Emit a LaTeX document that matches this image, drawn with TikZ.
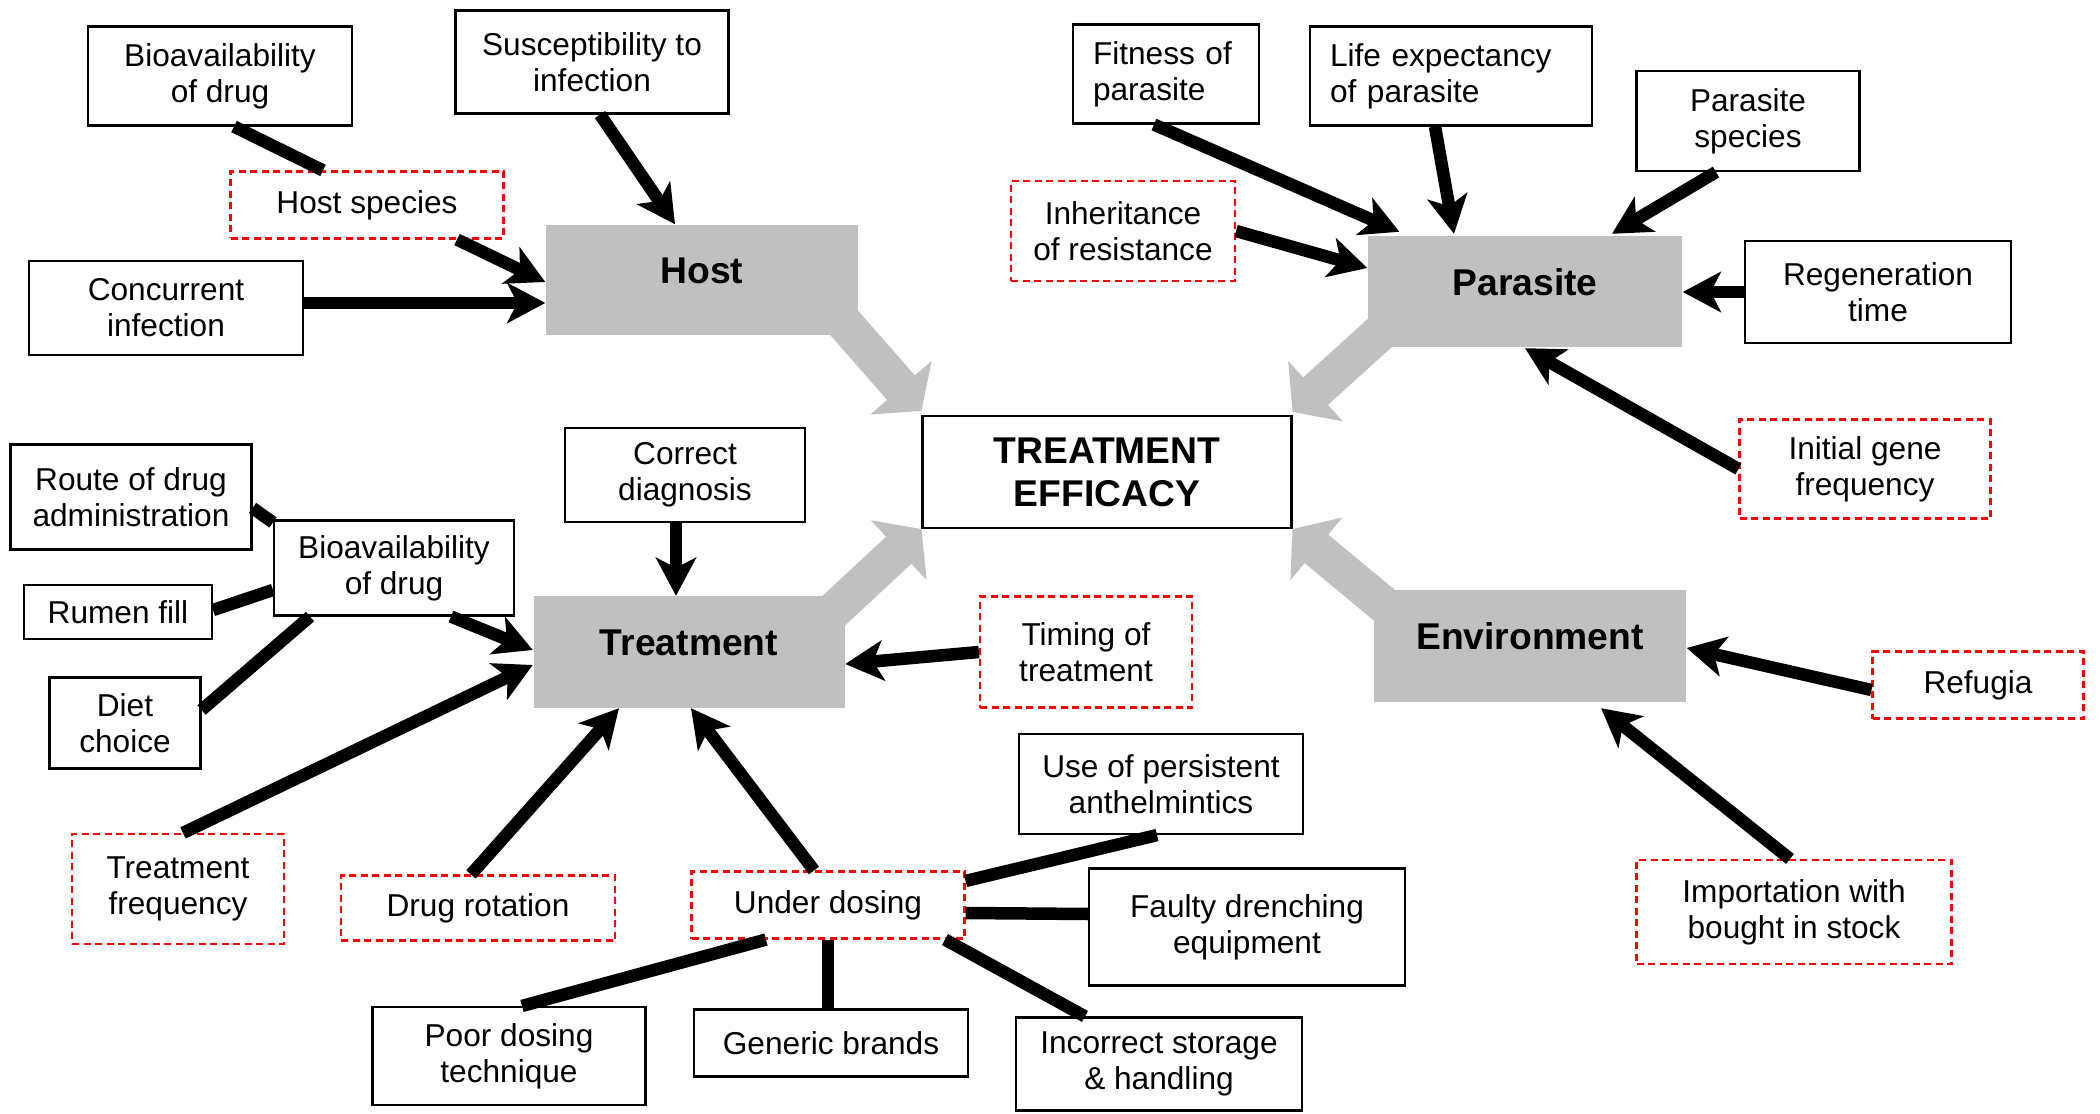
\documentclass[tikz,border=0pt]{standalone}
\usepackage{fontspec}
\setmainfont{Liberation Sans}
\usepackage{xcolor}
\usetikzlibrary{arrows.meta,calc}

\definecolor{boxgray}{RGB}{192,192,192}

\tikzset{
  sz/.style 2 args={minimum width=#1*0.1mm, minimum height=#2*0.1mm},
  box/.style={draw=black, line width=0.6pt, fill=white, align=center, inner sep=0pt,
    font=\fontsize{9}{10.3}\selectfont},
  dbox/.style={box, draw=red, dash pattern=on 0.7mm off 0.45mm},
  factor/.style={fill=boxgray, inner sep=0pt, text height=2.8mm, text depth=2.1mm,
    font=\fontsize{10.6}{12}\selectfont\bfseries},
  link/.style={line width=1.25mm},
  push/.style={link, -{Stealth[length=3.8mm,width=4mm,inset=1mm]}},
  bigpush/.style={line width=3.7mm, draw=boxgray, -{Triangle[length=3.1mm,width=8mm]}},
}

\begin{document}
\begin{tikzpicture}[x=0.1mm, y=-0.1mm]
\useasboundingbox (0,0) rectangle (2100,1114);

% Centre
\node[box, sz={369}{112}, font=\fontsize{10.6}{12.2}\selectfont\bfseries] (eff) at (1107,472) {TREATMENT\\EFFICACY};

% Main factors
\node[factor, sz={312}{110}] (host) at (702,280) {Host};
\node[factor, sz={314}{111}] (parasite) at (1525,292) {Parasite};
\node[factor, sz={311}{111}] (treat) at (689,652) {Treatment};
\node[factor, sz={312}{111}] (env) at (1530,646) {Environment};

% Host
\node[box, sz={264}{99}] (bioH) at (220,76) {Bioavailability\\of drug};
\node[box, sz={273}{103}] (susc) at (592,62) {Susceptibility to\\infection};
\node[dbox, sz={273}{67}] (hostsp) at (367,205) {Host species};
\node[box, sz={274}{94}] (concur) at (166,308) {Concurrent\\infection};

% Parasite
\node[box, sz={186}{99}, align=left, text width=14.6mm] (fitness) at (1166,74) {Fitness of\\parasite};
\node[box, sz={282}{99}, align=left, text width=24.2mm] (life) at (1451,76) {Life expectancy\\of parasite};
\node[box, sz={223}{100}] (parsp) at (1748,121) {Parasite\\species};
\node[dbox, sz={224}{100}] (inherit) at (1123,231) {Inheritance\\of resistance};
\node[box, sz={266}{102}] (regen) at (1878,292) {Regeneration\\time};
\node[dbox, sz={251}{99}] (initial) at (1865,469) {Initial gene\\frequency};

% Treatment
\node[box, sz={241}{105}] (route) at (131,497) {Route of drug\\administration};
\node[box, sz={240}{95}] (bioT) at (394,568) {Bioavailability\\of drug};
\node[box, sz={188}{54}] (rumen) at (118,612) {Rumen fill};
\node[box, sz={151}{91}] (diet) at (125,723) {Diet\\choice};
\node[box, sz={240}{94}] (correct) at (685,475) {Correct\\diagnosis};
\node[dbox, sz={212}{111}] (timing) at (1086,652) {Timing of\\treatment};
\node[dbox, sz={212}{110}] (freq) at (178,889) {Treatment\\frequency};
\node[dbox, sz={274}{65}] (rotation) at (478,908) {Drug rotation};
\node[dbox, sz={273}{67}] (under) at (828,905) {Under dosing};
\node[box, sz={284}{100}] (persist) at (1161,784) {Use of persistent\\anthelmintics};
\node[box, sz={316}{117}] (faulty) at (1247,927) {Faulty drenching\\equipment};
\node[box, sz={273}{98}] (poor) at (509,1056) {Poor dosing\\technique};
\node[box, sz={274}{67}] (generic) at (831,1043) {Generic brands};
\node[box, sz={286}{93}] (storage) at (1159,1064) {Incorrect storage\\\& handling};

% Environment
\node[dbox, sz={211}{67}] (refugia) at (1978,685) {Refugia};
\node[dbox, sz={315}{104}] (import) at (1794,912) {Importation with\\bought in stock};

% Big arrows into the centre
\draw[bigpush] ($(host.south east)+(-20,-19)$) -- ($(eff.north west)+(0,-4)$);
\draw[bigpush] ($(parasite.south west)+(20,-22)$) -- ($(eff.north east)+(0,-3)$);
\draw[bigpush] ($(treat.north east)+(-18,21)$) -- (eff.south west);
\draw[bigpush] ($(env.north west)+(19,22)$) -- (eff.south east);

% Host links
\draw[link] ($(bioH.south)+(14,0)$) -- ($(hostsp.north)+(-44,0)$);
\draw[push] ($(hostsp.south)+(90,0)$) -- ($(host.west)+(0,2)$);
\draw[push] ($(concur.east)+(0,-5)$) -- ($(host.west)+(0,23)$);
\draw[push] ($(susc.south)+(8,0)$) -- ($(host.north)+(-27,0)$);

% Parasite links
\draw[push] ($(fitness.south)+(-12,0)$) -- ($(parasite.north west)+(32,-4)$);
\draw[push] ($(life.south)+(-16,0)$) -- ($(parasite.north)+(-71,-2)$);
\draw[push] ($(parsp.south)+(-32,0)$) -- ($(parasite.north)+(87,-2)$);
\draw[push] (regen.west) -- (parasite.east);
\draw[push] (inherit.east) -- ($(parasite.west)+(0,-24)$);
\draw[push] (initial.west) -- (parasite.south);

% Treatment links
\draw[link] ($(route.east)+(0,11)$) -- ($(bioT.north west)+(0,3)$);
\draw[link] ($(rumen.east)+(0,-2)$) -- ($(bioT.west)+(0,22)$);
\draw[link] ($(diet.east)+(0,-13)$) -- ($(bioT.south)+(-84,0)$);
\draw[push] ($(bioT.south)+(57,0)$) -- ($(treat.west)+(0,-2)$);
\draw[push] ($(freq.north)+(5,0)$) -- ($(treat.west)+(0,13)$);
\draw[push] ($(correct.south)+(-9,0)$) -- ($(treat.north)+(-13,0)$);
\draw[push] (timing.west) -- ($(treat.east)+(0,12)$);
\draw[push] ($(rotation.north)+(-7,0)$) -- ($(treat.south)+(-70,0)$);
\draw[push] ($(under.north)+(-14,0)$) -- ($(treat.south)+(2,0)$);
\draw[link] ($(persist.south)+(-4,0)$) -- ($(under.east)+(0,-24)$);
\draw[link] ($(faulty.west)+(0,-13)$) -- ($(under.east)+(0,8)$);
\draw[link] ($(poor.north)+(13,0)$) -- ($(under.south)+(-62,0)$);
\draw[link] ($(generic.north)+(-3,0)$) -- (under.south);
\draw[link] ($(storage.north)+(-74,0)$) -- ($(under.south)+(117,0)$);

% Environment links
\draw[push] ($(refugia.west)+(0,5)$) -- ($(env.east)+(0,2)$);
\draw[push] ($(import.north)+(-4,0)$) -- ($(env.south)+(71,6)$);
\end{tikzpicture}
\end{document}
